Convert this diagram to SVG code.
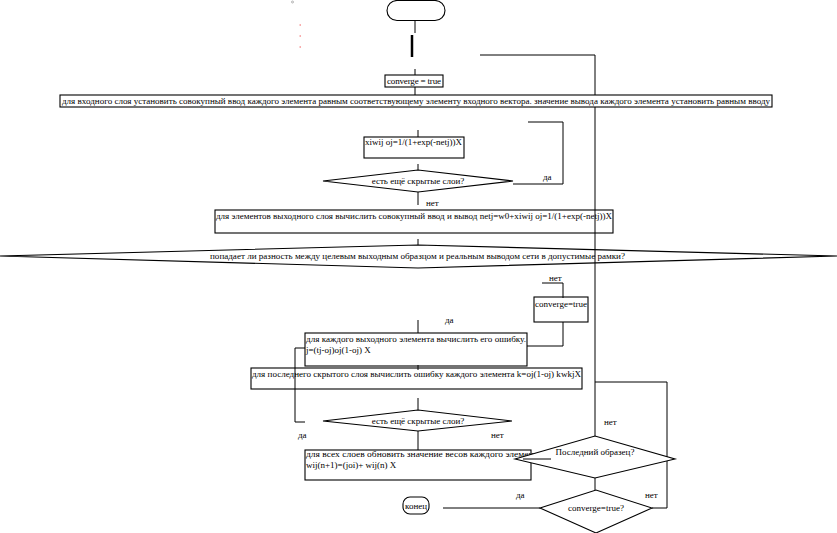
<svg xmlns="http://www.w3.org/2000/svg" width="837" height="533" viewBox="0 0 837 533">
<style>
.b{fill:none;stroke:#000;stroke-width:1.1}
.w{fill:#fff;stroke:#000;stroke-width:1.1}
.t{font-family:"Liberation Serif",serif;font-size:9px;fill:#000}
.m{text-anchor:middle}
.c{fill:none;stroke:#000;stroke-width:1}
</style>
<rect width="837" height="533" fill="#fff"/>
<g id="marks">
<circle cx="292.5" cy="2" r="1" fill="none" stroke="#888" stroke-width="0.6"/>
<line x1="299.5" y1="25" x2="301" y2="25" stroke="#e33" stroke-width="0.8"/>
<line x1="299.5" y1="36" x2="301" y2="36" stroke="#e33" stroke-width="0.8"/>
<line x1="299.5" y1="47" x2="301" y2="47" stroke="#e33" stroke-width="0.8"/>
</g>
<g id="start"><rect class="w" x="387" y="0.5" width="58" height="20" rx="10"/></g>
<g id="init"><rect class="w" x="385" y="75" width="58" height="12"/><text class="t" x="387" y="84" textLength="54">converge = true</text></g>
<g id="inputLayer"><rect class="w" x="60" y="95" width="712" height="12"/><text class="t" x="62" y="104" textLength="708" lengthAdjust="spacingAndGlyphs">для входного слоя установить совокупный ввод каждого элемента равным соответствующему элементу входного вектора. значение вывода каждого элемента установить равным вводу</text></g>
<g id="hidden"><rect class="b" x="364" y="137" width="100" height="21"/><text class="t" x="365" y="145" textLength="97" lengthAdjust="spacingAndGlyphs">xiwij oj=1/(1+exp(-netj))X</text></g>
<g id="moreHidden1"><polygon class="b" points="323,181 418,170 513,181 418,192"/><text class="t m" x="418" y="184">есть ещё скрытые слои?</text></g>
<g id="outputLayer"><rect class="b" x="215" y="210" width="398" height="23"/><text class="t" x="216" y="219" textLength="396" lengthAdjust="spacingAndGlyphs">для элементов выходного слоя вычислить совокупный ввод и вывод netj=w0+xiwij oj=1/(1+exp(-netj))X</text></g>
<g id="errorCheck"><polygon class="b" points="0,256 418,245 837,256 418,268"/><text class="t" x="210" y="259" textLength="415" lengthAdjust="spacingAndGlyphs">попадает ли разность между целевым выходным образцом и реальным выводом сети в допустимые рамки?</text></g>
<g id="convergeFalse"><rect class="b" x="534" y="297" width="54" height="25"/><text class="t" x="535" y="307" textLength="52" lengthAdjust="spacingAndGlyphs">converge=true</text></g>
<g id="outputError"><rect class="b" x="305" y="333" width="222" height="33"/><text class="t" x="306" y="342" textLength="220" lengthAdjust="spacingAndGlyphs">для каждого выходного элемента вычислить его ошибку.</text><text class="t" x="306" y="353">j=(tj-oj)oj(1-oj) X</text></g>
<g id="hiddenError"><rect class="b" x="251" y="368" width="331" height="21"/><text class="t" x="252" y="377" textLength="329" lengthAdjust="spacingAndGlyphs">для последнего скрытого слоя вычислить ошибку каждого элемента k=oj(1-oj) kwkjX</text></g>
<g id="moreHidden2"><polygon class="b" points="323,421 418,410 512,421 418,431"/><text class="t m" x="418" y="424">есть ещё скрытые слои?</text></g>
<g id="update"><rect class="b" x="305" y="450" width="226" height="30"/><text class="t" x="306" y="457" textLength="236" lengthAdjust="spacingAndGlyphs">для всех слоев обновить значение весов каждого элемента</text><text class="t" x="306" y="468">wij(n+1)=(joi)+ wij(n) X</text></g>
<g id="connectors">
<path class="c" d="M415 21V33"/>
<path d="M412 35V57" stroke="#000" stroke-width="2.5"/>
<path class="c" d="M415 69V75M415 87V95M418 130V137M418 164V170"/>
<path class="c" d="M513 184H563V122H528"/>
<path class="c" d="M418 192V205M418 239V245"/>
<path class="c" d="M480 55H595V95M595 107V436"/>
<path class="c" d="M418 320V333"/>
<path class="c" d="M542 283H563V298M563 322V346H527"/>
<path class="c" d="M418 365V370M418 398V410M418 431V450"/>
<path class="c" d="M305 348H295V422H305"/>
<path class="c" d="M595 382H667V508H652"/>
<path class="c" d="M595 478V490"/>
<path class="c" d="M540 508H443"/>
</g>
<g id="lastSample"><polygon class="w" points="515,459 595,436 675,459 595,478"/><path class="c" d="M523 459H551"/><text class="t m" x="595" y="455">Последний образец?</text></g>
<g id="convergeCheck"><polygon class="w" points="540,508 596,490 652,508 596,533"/><text class="t m" x="596" y="511">converge=true?</text></g>
<g id="end"><rect class="w" x="403" y="497" width="26" height="17" rx="7"/><text class="t m" x="416" y="509">конец</text></g>
<g id="labels">
<text class="t" x="543" y="180">да</text>
<text class="t" x="426" y="206">нет</text>
<text class="t" x="549" y="281">нет</text>
<text class="t" x="445" y="323">да</text>
<text class="t" x="298" y="438">да</text>
<text class="t" x="491" y="438">нет</text>
<text class="t" x="604" y="425">нет</text>
<text class="t" x="516" y="498">да</text>
<text class="t" x="645" y="498">нет</text>
</g>
</svg>
